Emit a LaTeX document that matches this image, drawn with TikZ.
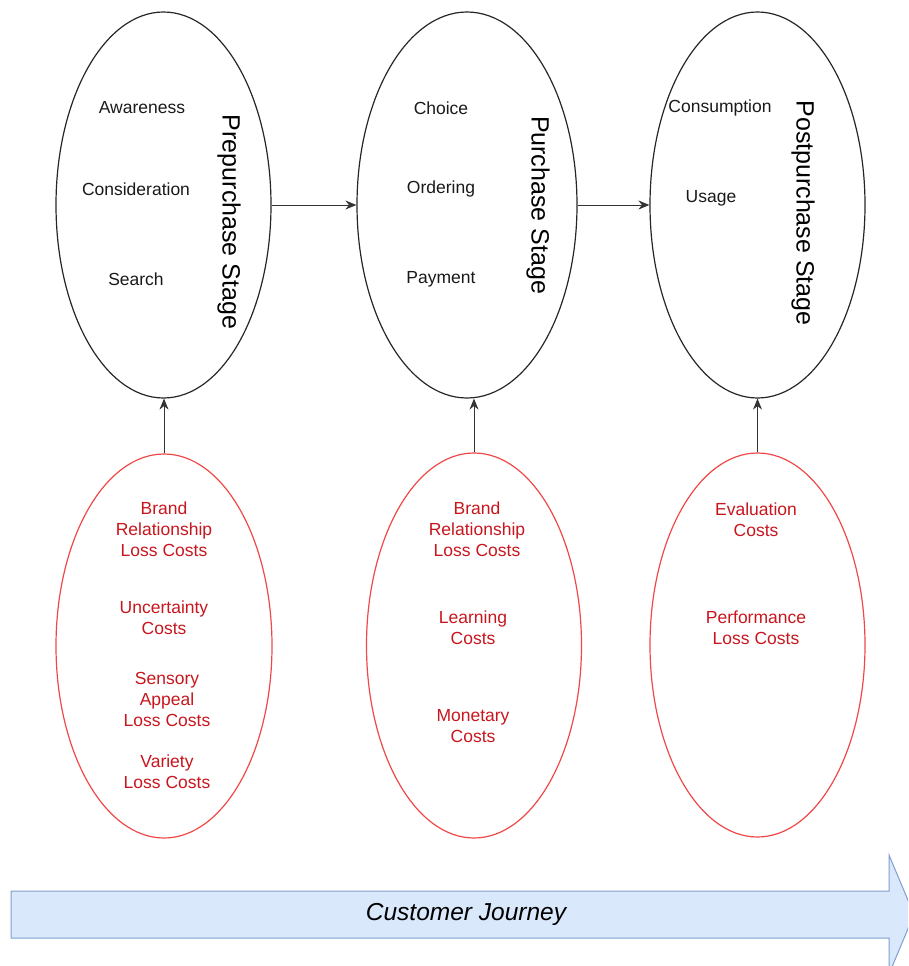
\documentclass[tikz,border=0pt]{standalone}
\usepackage{fontspec}
\setmainfont{Liberation Sans}
\usetikzlibrary{shapes.geometric,arrows.meta}
\definecolor{stagered}{HTML}{F04848}
\definecolor{costred}{HTML}{C8161E}
\definecolor{journeyfill}{HTML}{DAE8FC}
\definecolor{journeyline}{HTML}{7E9FCF}
\begin{document}
\begin{tikzpicture}[x=1pt,y=-1pt,
  stagebox/.style={ellipse,draw=black!85,line width=1.2pt,inner sep=0pt},
  costbox/.style={ellipse,draw=stagered,line width=1.2pt,inner sep=0pt},
  item/.style={font=\fontsize{17.5}{21}\selectfont,text=black!90,align=center},
  cost/.style={font=\fontsize{17.5}{21}\selectfont,text=costred,align=center},
  stagelabel/.style={font=\fontsize{25}{30}\selectfont,rotate=-90,text=black},
  flow/.style={draw=black!80,line width=0.9pt,-{Stealth[length=11pt,width=9pt]}}]
\useasboundingbox (0,0) rectangle (908,966);
\clip (0,0) rectangle (908,966);

% customer journey band
\path[draw=journeyline,fill=journeyfill,line width=1pt]
  (11,891) -- (889,891) -- (889,855) -- (914,914.5) -- (889,974) -- (889,938) -- (11,938) -- cycle;
\node[font=\fontsize{24.5}{28}\selectfont\itshape] (jlabel) at (466,914) {Customer Journey};

% stage ellipses
\node[stagebox,minimum width=215pt,minimum height=386pt] (pre) at (163.5,205) {};
\node[stagebox,minimum width=220pt,minimum height=386pt] (pur) at (467,205) {};
\node[stagebox,minimum width=215pt,minimum height=386pt] (post) at (757.5,205) {};

% cost ellipses
\node[costbox,minimum width=216pt,minimum height=384pt] (c1) at (164,646) {};
\node[costbox,minimum width=215pt,minimum height=385pt] (c2) at (474,645.5) {};
\node[costbox,minimum width=215pt,minimum height=384pt] (c3) at (757.5,645) {};

% stage names
\node[stagelabel] (preL) at (229,222) {Prepurchase Stage};
\node[stagelabel] (purL) at (538,205) {Purchase Stage};
\node[stagelabel] (postL) at (803,213) {Postpurchase Stage};

% stage activities
\node[item] (aw) at (142,108) {Awareness};
\node[item] (co) at (136,189) {Consideration};
\node[item] (se) at (136,279) {Search};
\node[item] (ch) at (441,108) {Choice};
\node[item] (or) at (441,189) {Ordering};
\node[item] (pa) at (441,279) {Payment};
\node[item] (cn) at (720,108) {Consumption};
\node[item] (us) at (711,198) {Usage};

% costs
\node[cost] (b1) at (164,529) {Brand\\Relationship\\Loss Costs};
\node[cost] (u1) at (164,618) {Uncertainty\\Costs};
\node[cost] (s1) at (167,699) {Sensory\\Appeal\\Loss Costs};
\node[cost] (v1) at (167,771.5) {Variety\\Loss Costs};
\node[cost] (b2) at (477,529) {Brand\\Relationship\\Loss Costs};
\node[cost] (l2) at (473,627.5) {Learning\\Costs};
\node[cost] (m2) at (473,726.5) {Monetary\\Costs};
\node[cost] (e3) at (756,519.5) {Evaluation\\Costs};
\node[cost] (p3) at (756,627.5) {Performance\\Loss Costs};

% connectors
\draw[flow] (pre.east) -- (pur.west);
\draw[flow] (pur.east) -- (post.west);
\draw[flow] (c1.north) -- (c1.north |- pre.south);
\draw[flow] (c2.north) -- (c2.north |- pur.south);
\draw[flow] (c3.north) -- (c3.north |- post.south);
\end{tikzpicture}
\end{document}
